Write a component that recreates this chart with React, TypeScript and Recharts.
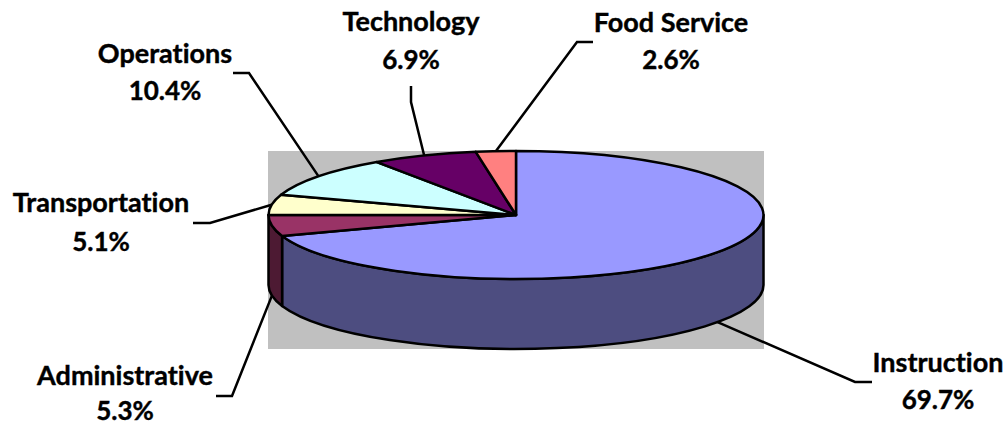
import { Pie, PieChart } from "recharts";

const CATEGORIES = ["Instruction", "Administrative", "Transportation", "Operations", "Technology", "Food Service"];
const SHARES = [69.7, 5.3, 5.1, 10.4, 6.9, 2.6];
const TOP_COLORS = ["#9999FF", "#993366", "#FFFFCC", "#CCFFFF", "#660066", "#FF8080"];
const SIDE_COLORS = ["#4D4D80", "#4D1A33", "#808066", "#668080", "#330033", "#804040"];

// where each label sits: centre x, two baselines, and the elbow of its leader line
const LABEL_SPOTS = [
  { x: 938, y1: 372, y2: 409, elbow: [855, 382], end: [872, 382] },
  { x: 125, y1: 385, y2: 420, elbow: [232, 396], end: [216, 396] },
  { x: 101, y1: 212, y2: 251, elbow: [210, 223], end: [193, 223] },
  { x: 165, y1: 63, y2: 100, elbow: [249, 73], end: [233, 73] },
  { x: 411, y1: 31, y2: 69, elbow: [411, 102], end: [411, 86] },
  { x: 671, y1: 32, y2: 69, elbow: [577, 42], end: [593, 42] },
];

const WIDTH = 1007;
const HEIGHT = 425;
const CX = 516;
const CY = 215;
const RX = 247.5;
const RY = 64;
const DEPTH = 70;
const LINE = 2.5;

const data = CATEGORIES.map((name, i) => ({
  name,
  share: SHARES[i],
  fill: TOP_COLORS[i],
  side: SIDE_COLORS[i],
}));

const rad = (deg: number) => (deg * Math.PI) / 180;

function rimPoint(cx: number, cy: number, rx: number, angle: number) {
  const ry = rx * (RY / RX);
  return { x: cx + rx * Math.cos(rad(angle)), y: cy - ry * Math.sin(rad(angle)) };
}

// pie sector squashed into an ellipse, with its wall if it faces the viewer
function TiltedSector(props: any) {
  const { cx, cy, outerRadius: rx, startAngle, endAngle, fill, side } = props;
  const ry = rx * (RY / RX);
  const a = rimPoint(cx, cy, rx, startAngle);
  const b = rimPoint(cx, cy, rx, endAngle);
  const large = startAngle - endAngle > 180 ? 1 : 0;
  const top = `M${cx},${cy} L${a.x},${a.y} A${rx},${ry} 0 ${large} 1 ${b.x},${b.y} Z`;

  const hi = Math.min(startAngle, 0);
  const lo = Math.max(endAngle, -180);
  let wall = null;
  if (hi > lo) {
    const p = rimPoint(cx, cy, rx, hi);
    const q = rimPoint(cx, cy, rx, lo);
    const d = `M${p.x},${p.y} A${rx},${ry} 0 0 1 ${q.x},${q.y} L${q.x},${q.y + DEPTH} A${rx},${ry} 0 0 0 ${p.x},${p.y + DEPTH} Z`;
    wall = <path d={d} fill={side} stroke="#000" strokeWidth={LINE} strokeLinejoin="round" />;
  }
  return (
    <g>
      {wall}
      <path d={top} fill={fill} stroke="#000" strokeWidth={LINE} strokeLinejoin="round" />
    </g>
  );
}

function SliceLabel(props: any) {
  const { cx, cy, outerRadius, midAngle, index, name, value } = props;
  const spot = LABEL_SPOTS[index];
  const rim = rimPoint(cx, cy, outerRadius, midAngle);
  // the two front slices take their leader from the bottom of the wall
  const front = Math.sin(rad(midAngle)) < 0 && index < 2;
  const y0 = front ? rim.y + DEPTH : rim.y;
  return (
    <g>
      <polyline
        points={`${rim.x},${y0} ${spot.elbow[0]},${spot.elbow[1]} ${spot.end[0]},${spot.end[1]}`}
        fill="none"
        stroke="#000"
        strokeWidth={LINE}
      />
      <g
        fontFamily="Lato, sans-serif"
        fontWeight={700}
        fill="#000"
        stroke="#000"
        strokeWidth={0.4}
        textAnchor="middle"
        style={{ fontVariantLigatures: "none" }}
      >
        <text x={spot.x} y={spot.y1} fontSize={27}>{name}</text>
        <text x={spot.x} y={spot.y2} fontSize={26}>{`${value.toFixed(1)}%`}</text>
      </g>
    </g>
  );
}

export default function App() {
  return (
    <div style={{ position: "absolute", left: 0, top: 0, width: WIDTH, height: HEIGHT, background: "#fff" }}>
      <PieChart width={WIDTH} height={HEIGHT} margin={{ top: 0, right: 0, bottom: 0, left: 0 }}>
        <rect x={268} y={151} width={496} height={198} fill="#C0C0C0" />
        <Pie
          data={data}
          dataKey="share"
          nameKey="name"
          cx={CX}
          cy={CY}
          innerRadius={0}
          outerRadius={RX}
          startAngle={90}
          endAngle={-270}
          shape={TiltedSector}
          label={SliceLabel}
          labelLine={false}
          isAnimationActive={false}
        />
      </PieChart>
    </div>
  );
}
